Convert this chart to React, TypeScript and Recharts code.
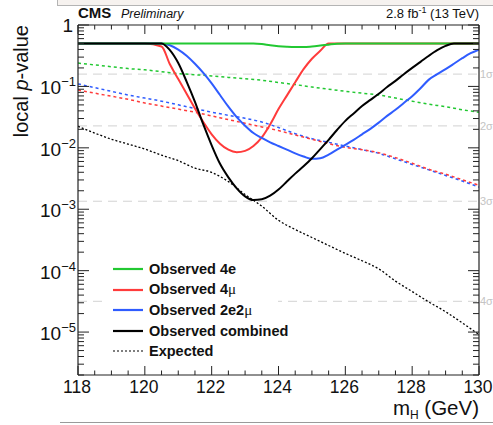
import React from 'react';
import { LineChart, Line, XAxis, YAxis, ReferenceLine, Legend } from 'recharts';

// ---------- data ----------
const massObs = [118, 119, 120, 120.5, 120.75, 121, 121.25, 121.5, 121.75, 122, 122.25, 122.5, 122.75, 123, 123.25, 123.5, 123.75, 124, 124.25, 124.5, 124.75, 125, 125.25, 125.5, 125.75, 126, 126.25, 126.5, 126.75, 127, 127.25, 127.5, 127.75, 128, 128.25, 128.5, 128.75, 129, 129.25, 129.5, 129.75, 130];

const obs4e = [0.5, 0.5, 0.5, 0.5, 0.5, 0.5, 0.5, 0.5, 0.5, 0.5, 0.5, 0.5, 0.5, 0.5, 0.5, 0.49, 0.468, 0.452, 0.442, 0.437, 0.437, 0.447, 0.462, 0.479, 0.495, 0.5, 0.5, 0.5, 0.5, 0.5, 0.5, 0.5, 0.5, 0.5, 0.5, 0.5, 0.5, 0.5, 0.5, 0.5, 0.5, 0.5];

const obs4mu = [0.5, 0.5, 0.5, 0.447, 0.229, 0.132, 0.0759, 0.0437, 0.0263, 0.0166, 0.0117, 0.00933, 0.00851, 0.00891, 0.0107, 0.0148, 0.024, 0.0427, 0.0708, 0.117, 0.191, 0.282, 0.38, 0.5, 0.5, 0.5, 0.5, 0.5, 0.5, 0.5, 0.5, 0.5, 0.5, 0.5, 0.5, 0.5, 0.5, 0.5, 0.5, 0.5, 0.5, 0.5];

const obs2e2mu = [0.5, 0.5, 0.5, 0.5, 0.468, 0.398, 0.316, 0.234, 0.166, 0.112, 0.0724, 0.0468, 0.0316, 0.0229, 0.0174, 0.0145, 0.0123, 0.0107, 0.00933, 0.00813, 0.00724, 0.00661, 0.00676, 0.00776, 0.00933, 0.0112, 0.0135, 0.0166, 0.0204, 0.0257, 0.0331, 0.0417, 0.0537, 0.0692, 0.0933, 0.129, 0.158, 0.191, 0.234, 0.288, 0.347, 0.398];

const obsComb = [0.5, 0.5, 0.5, 0.5, 0.389, 0.24, 0.12, 0.0562, 0.024, 0.011, 0.0055, 0.00331, 0.00219, 0.00162, 0.00141, 0.00145, 0.00166, 0.00209, 0.00282, 0.0038, 0.00501, 0.00676, 0.00955, 0.0135, 0.0195, 0.0275, 0.0363, 0.0479, 0.0603, 0.0759, 0.0977, 0.123, 0.158, 0.2, 0.251, 0.316, 0.389, 0.457, 0.5, 0.5, 0.5, 0.5];

const massExp = [118, 118.5, 119, 119.5, 120, 120.5, 121, 121.5, 122, 122.5, 123, 123.5, 124, 124.5, 125, 125.5, 126, 126.5, 127, 127.5, 128, 128.5, 129, 129.5, 130];

const exp4e = [0.24, 0.224, 0.209, 0.195, 0.186, 0.174, 0.162, 0.155, 0.148, 0.14, 0.133, 0.126, 0.116, 0.107, 0.0977, 0.0902, 0.0832, 0.0776, 0.0724, 0.0646, 0.0575, 0.0513, 0.0468, 0.0417, 0.038];

const exp2e2mu = [0.11, 0.0955, 0.0832, 0.0724, 0.0646, 0.0575, 0.0501, 0.0437, 0.038, 0.0339, 0.0302, 0.0263, 0.0214, 0.017, 0.0141, 0.0123, 0.0107, 0.00933, 0.00813, 0.00661, 0.00537, 0.00437, 0.00355, 0.00288, 0.00229];

const exp4mu = [0.0871, 0.0776, 0.0692, 0.0617, 0.0537, 0.0479, 0.0427, 0.038, 0.0331, 0.0288, 0.0251, 0.0219, 0.0191, 0.0162, 0.0138, 0.0117, 0.0102, 0.00933, 0.00832, 0.00692, 0.00562, 0.00447, 0.00372, 0.00302, 0.00245];

const expComb = [0.0224, 0.0174, 0.0138, 0.0115, 0.00955, 0.00759, 0.00617, 0.00468, 0.00398, 0.00282, 0.00174, 0.00112, 0.000661, 0.000468, 0.000347, 0.000257, 0.000191, 0.000145, 0.000107, 0.0000676, 0.0000457, 0.0000309, 0.0000214, 0.0000141, 0.0000091];

// ---------- axes / labels ----------
const xDomain = [118, 130];
const xMajorTicks = [118, 120, 122, 124, 126, 128, 130];
const xAllTicks = [118, 118.5, 119, 119.5, 120, 120.5, 121, 121.5, 122, 122.5, 123, 123.5, 124, 124.5, 125, 125.5, 126, 126.5, 127, 127.5, 128, 128.5, 129, 129.5, 130];
const yDomain = [2e-6, 1];
const yDecades = [1e-6, 1e-5, 1e-4, 1e-3, 1e-2, 1e-1];
const yMultipliers = [1, 2, 3, 4, 5, 6, 7, 8, 9];
const yMajorTicks = [1e-5, 1e-4, 1e-3, 1e-2, 1e-1, 1];
const yMajorExponents = [-5, -4, -3, -2, -1, 0];
const yAllTicks = [
  ...yDecades.flatMap((d) => yMultipliers.map((k) => k * d)).filter((v) => v >= 1.999e-6),
  1,
];

const sigmaValues = [0.1587, 0.02275, 0.00135, 3.17e-5];
const sigmaLabels = ['1σ', '2σ', '3σ', '4σ'];

const legendLabels = ['Observed 4e', 'Observed 4μ', 'Observed 2e2μ', 'Observed combined', 'Expected'];
const legendColors = ['#22c832', '#ff3b3b', '#2f5cff', '#000000', '#000000'];
const legendWidths = [2.2, 2.2, 2.2, 2.2, 1.2];
const legendDashes = ['', '', '', '', '2 2'];

const GREEN = '#22c832';
const RED = '#ff3b3b';
const BLUE = '#2f5cff';
const BLACK = '#000000';
const FONT = '"Liberation Sans", Arial, Helvetica, sans-serif';
const AXIS = '#222222';

const toRows = (xs: number[], ys: number[]) => xs.map((m, i) => ({ m, p: ys[i] }));

const majorIndexY = (v: number) => yMajorTicks.findIndex((t) => Math.abs(v / t - 1) < 1e-6);

function BottomTick(props: any) {
  const { x, y, payload } = props;
  const v = payload.value;
  const major = xMajorTicks.includes(v);
  return (
    <g>
      <line x1={x} x2={x} y1={y} y2={y - (major ? 9 : 4.5)} stroke={AXIS} strokeWidth={1} />
      {major && (
        <text x={x - 1} y={y + 18} textAnchor="middle" fontSize={17.5} fontFamily={FONT} fill="#111">
          {String(v)}
        </text>
      )}
    </g>
  );
}

function TopTick(props: any) {
  const { x, y, payload } = props;
  const major = xMajorTicks.includes(payload.value);
  return <line x1={x} x2={x} y1={y} y2={y + (major ? 9 : 4.5)} stroke={AXIS} strokeWidth={1} />;
}

function LeftTick(props: any) {
  const { x, y, payload } = props;
  const idx = majorIndexY(payload.value);
  const major = idx >= 0;
  const e = major ? yMajorExponents[idx] : 0;
  return (
    <g>
      <line x1={x} x2={x + (major ? 11 : 6)} y1={y} y2={y} stroke={AXIS} strokeWidth={1} />
      {major && e === 0 && (
        <text x={x - 5} y={y + 7} textAnchor="end" fontSize={19} fontFamily={FONT} fill="#111">
          1
        </text>
      )}
      {major && e !== 0 && (
        <text x={x - 2} y={y + 8} textAnchor="end" fontFamily={FONT} fill="#111">
          <tspan fontSize={19}>10</tspan>
          <tspan fontSize={13} dy={-8}>{'\u2212' + Math.abs(e)}</tspan>
        </text>
      )}
    </g>
  );
}

function RightTick(props: any) {
  const { x, y, payload } = props;
  const major = majorIndexY(payload.value) >= 0;
  return <line x1={x} x2={x - (major ? 11 : 6)} y1={y} y2={y} stroke={AXIS} strokeWidth={1} />;
}

function renderLabel(label: string) {
  const parts = label.split('μ');
  return parts.map((part, i) => (
    <React.Fragment key={i}>
      {part}
      {i < parts.length - 1 && (
        <span style={{ fontFamily: '"Liberation Serif", "DejaVu Serif", serif', fontWeight: 'normal', fontSize: 15 }}>μ</span>
      )}
    </React.Fragment>
  ));
}

function LegendBox() {
  return (
    <div style={{ background: '#ffffff', width: 171, fontFamily: FONT }}>
      {legendLabels.map((label, i) => (
        <div key={label} style={{ height: 20.5, display: 'flex', alignItems: 'center' }}>
          <svg width={30} height={6} style={{ marginLeft: 6, marginRight: 6, flex: 'none' }}>
            <line x1={0} x2={30} y1={3} y2={3} stroke={legendColors[i]} strokeWidth={legendWidths[i]} strokeDasharray={legendDashes[i] || undefined} />
          </svg>
          <span style={{ fontWeight: 'bold', fontSize: 14.5, color: '#111', whiteSpace: 'nowrap' }}>{renderLabel(label)}</span>
        </div>
      ))}
    </div>
  );
}

export default function App() {
  const common = { xAxisId: 'b', yAxisId: 'l', dataKey: 'p', dot: false, isAnimationActive: false, type: 'monotone' as const, legendType: 'none' as const };
  return (
    <div style={{ position: 'absolute', left: 0, top: 0, width: 493, height: 425, background: '#fff', overflow: 'hidden' }}>
      <div style={{ position: 'absolute', left: 57, top: -1, width: 440, height: 5, background: '#f6f2ef', border: '1px solid #b4b4b4' }} />
      <div style={{ position: 'absolute', left: 60, top: 422, width: 440, height: 1, background: '#9a9a9a' }} />
      <LineChart width={493} height={425} margin={{ top: 24, right: 13, bottom: 49, left: 77 }}>
        <XAxis xAxisId="b" orientation="bottom" dataKey="m" type="number" domain={xDomain} allowDataOverflow ticks={xAllTicks} interval={0} height={1} tickSize={0} tickMargin={0} tickLine={false} axisLine={{ stroke: AXIS, strokeWidth: 1.2 }} tick={(p: any) => <BottomTick {...p} />} />
        <XAxis xAxisId="t" orientation="top" dataKey="m" type="number" domain={xDomain} allowDataOverflow ticks={xAllTicks} interval={0} height={1} tickSize={0} tickMargin={0} tickLine={false} axisLine={{ stroke: AXIS, strokeWidth: 1.2 }} tick={(p: any) => <TopTick {...p} />} />
        <YAxis yAxisId="l" orientation="left" type="number" scale="log" domain={yDomain} allowDataOverflow ticks={yAllTicks} interval={0} width={1} tickSize={0} tickMargin={0} tickLine={false} axisLine={{ stroke: AXIS, strokeWidth: 1.2 }} tick={(p: any) => <LeftTick {...p} />} />
        <YAxis yAxisId="r" orientation="right" type="number" scale="log" domain={yDomain} allowDataOverflow ticks={yAllTicks} interval={0} width={1} tickSize={0} tickMargin={0} tickLine={false} axisLine={{ stroke: AXIS, strokeWidth: 1.2 }} tick={(p: any) => <RightTick {...p} />} />

        {sigmaValues.map((s, i) => (
          <ReferenceLine key={sigmaLabels[i]} xAxisId="b" yAxisId="l" y={s} stroke="#d2d2d2" strokeWidth={1} strokeDasharray="9 6" label={{ value: sigmaLabels[i], position: 'right', offset: 1, fill: '#c4c4c4', fontSize: 11, fontFamily: FONT }} />
        ))}

        <Line {...common} data={toRows(massExp, exp4e)} stroke={GREEN} strokeWidth={1.5} strokeDasharray="3 3" />
        <Line {...common} data={toRows(massExp, exp2e2mu)} stroke={BLUE} strokeWidth={1.5} strokeDasharray="3 3" />
        <Line {...common} data={toRows(massExp, exp4mu)} stroke={RED} strokeWidth={1.5} strokeDasharray="3 3" />
        <Line {...common} data={toRows(massExp, expComb)} stroke={BLACK} strokeWidth={1.3} strokeDasharray="2 2" />

        <Line {...common} data={toRows(massObs, obs4mu)} stroke={RED} strokeWidth={2} />
        <Line {...common} data={toRows(massObs, obs2e2mu)} stroke={BLUE} strokeWidth={2} />
        <Line {...common} data={toRows(massObs, obs4e)} stroke={GREEN} strokeWidth={2} />
        <Line {...common} data={toRows(massObs, obsComb)} stroke={BLACK} strokeWidth={2} />

        <Legend layout="vertical" align="center" verticalAlign="middle" content={() => <LegendBox />} wrapperStyle={{ left: 107, top: 259, width: 171, height: 103 }} />
      </LineChart>
      <svg width={493} height={425} style={{ position: 'absolute', left: 0, top: 0, pointerEvents: 'none' }}>
        <text x={78} y={18} fontFamily={FONT} fontWeight="bold" fontSize={15} fill="#111">CMS</text>
        <text x={121} y={18} fontFamily={FONT} fontStyle="italic" fontSize={12.5} fill="#111">Preliminary</text>
        <text x={479} y={18} textAnchor="end" fontFamily={FONT} fontSize={13} fill="#111">
          2.8 fb<tspan fontSize={9} dy={-5}>-1</tspan>
          <tspan dy={5}> (13 TeV)</tspan>
        </text>
        <text transform="translate(28,25) rotate(-90)" textAnchor="end" fontFamily={FONT} fontSize={20} fill="#111">
          local <tspan fontStyle="italic">p</tspan>-value
        </text>
        <text x={479} y={415} textAnchor="end" fontFamily={FONT} fontSize={20.5} fill="#111">
          m<tspan fontSize={12} dy={4}>H</tspan>
          <tspan dy={-4}> (GeV)</tspan>
        </text>
      </svg>
    </div>
  );
}
